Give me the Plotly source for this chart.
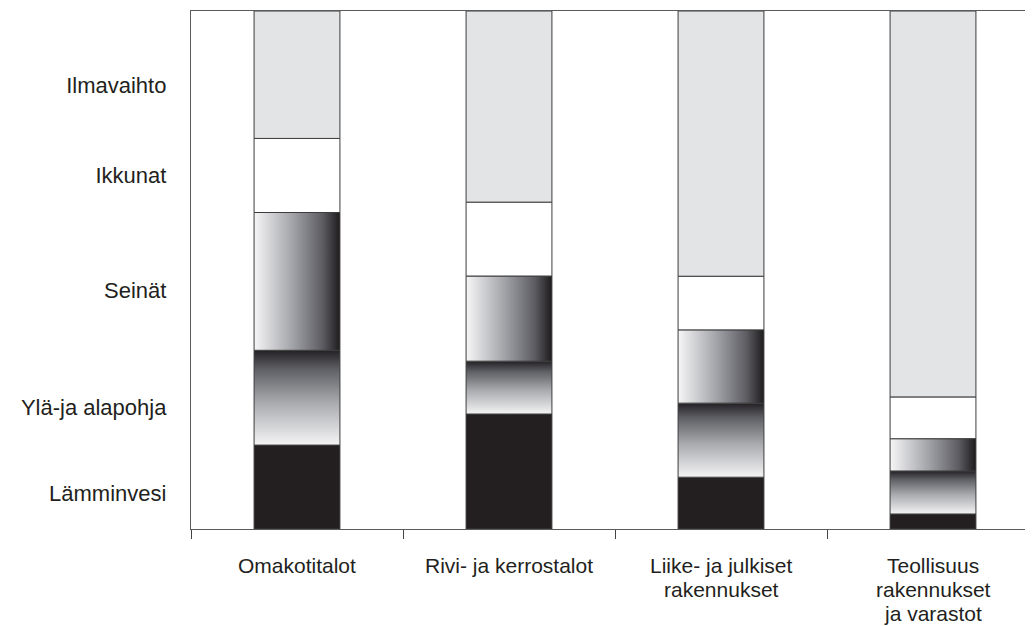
import plotly.graph_objects as go
import numpy as np

categories = ["Omakotitalot", "Rivi- ja kerrostalot", "Liike- ja julkiset rakennukset",
              "Teollisuus rakennukset ja varastot"]
cat_labels = ["Omakotitalot", "Rivi- ja kerrostalot", "Liike- ja julkiset<br>rakennukset",
              "Teollisuus<br>rakennukset<br>ja varastot"]

# shares (%) of each component, bottom to top
lamminvesi = [16.2, 22.2, 10.0, 2.9]
yla_ala = [18.3, 10.2, 14.3, 8.3]
seinat = [26.6, 16.4, 14.1, 6.2]
ikkunat = [14.3, 14.3, 10.4, 8.1]
ilmavaihto = [24.6, 36.9, 51.2, 74.5]

series_names = ["Lämminvesi", "Ylä-ja alapohja", "Seinät", "Ikkunat", "Ilmavaihto"]
label_pos = [6.8, 23.4, 46.1, 68.3, 85.7]

BAR_W = 0.405
LINE_C = "#3c3c3c"
AX_C = "#5a5a5a"
TXT_C = "#231f20"
FONT = "Liberation Sans, Arial, Helvetica, sans-serif"
FS_Y = 22
FS_X = 21

series = [lamminvesi, yla_ala, seinat, ikkunat, ilmavaihto]
bases = np.cumsum([[0] * 4] + series[:-1], axis=0)

fig = go.Figure()

solid = {0: "#231f20", 3: "#ffffff", 4: "#e3e4e6"}
for i, vals in enumerate(series):
    if i in solid:
        fig.add_trace(go.Bar(
            x=categories, y=vals, base=list(bases[i]), width=BAR_W,
            name=series_names[i], marker=dict(color=solid[i], line=dict(color=LINE_C, width=1)),
            showlegend=False, xaxis="x", yaxis="y"))

grad_h = [[0, "#f6f6f7"], [0.45, "#a2a3a8"], [0.8, "#5c5c62"], [1, "#1e1b1c"]]
grad_v = [[0, "#f4f4f5"], [0.45, "#a9aaae"], [0.8, "#5f6065"], [1, "#232024"]]
for i, gtype, cs in [(1, "vertical", grad_v), (2, "horizontal", grad_h)]:
    for j in range(len(categories)):
        b = bases[i][j]
        t = b + series[i][j]
        x0, x1 = j - BAR_W / 2, j + BAR_W / 2
        fig.add_trace(go.Scatter(
            x=[x0, x1, x1, x0, x0], y=[b, b, t, t, b], mode="lines",
            fill="toself", fillgradient=dict(type=gtype, colorscale=cs),
            line=dict(color=LINE_C, width=1), name=series_names[i],
            showlegend=False, hoverinfo="skip", xaxis="x2", yaxis="y"))

# category labels, one annotation per line to keep the tight line spacing
annotations = []
for j, lab in enumerate(cat_labels):
    for k, line in enumerate(lab.split("<br>")):
        annotations.append(dict(
            x=j, xref="x", y=0, yref="paper", text=line, showarrow=False,
            xanchor="center", yanchor="middle", yshift=-36 - 24 * k,
            font=dict(family=FONT, size=FS_X, color=TXT_C)))

XR = [-0.5, 3.5]
fig.update_layout(
    width=1033, height=626,
    margin=dict(l=183, r=2, t=3, b=105, autoexpand=False),
    paper_bgcolor="white", plot_bgcolor="white",
    barmode="overlay",
    font=dict(family=FONT, size=FS_Y, color=TXT_C),
    annotations=annotations,
    xaxis=dict(type="category", categoryorder="array", categoryarray=categories,
               tickvals=categories, tickson="boundaries", showticklabels=False,
               range=XR, showline=True, linecolor=AX_C, linewidth=1.3, mirror=True,
               ticks="outside", ticklen=9, tickcolor="#444444", tickwidth=1.3,
               showgrid=False, zeroline=False),
    xaxis2=dict(range=XR, overlaying="x", visible=False, showgrid=False, zeroline=False),
    yaxis=dict(range=[0, 100], showline=True, linecolor=AX_C, linewidth=1.3,
               showgrid=False, zeroline=False, ticks="",
               tickvals=label_pos, ticktext=series_names, ticklabelstandoff=19,
               tickfont=dict(family=FONT, size=FS_Y, color=TXT_C)),
)

fig.write_html("out.html")
